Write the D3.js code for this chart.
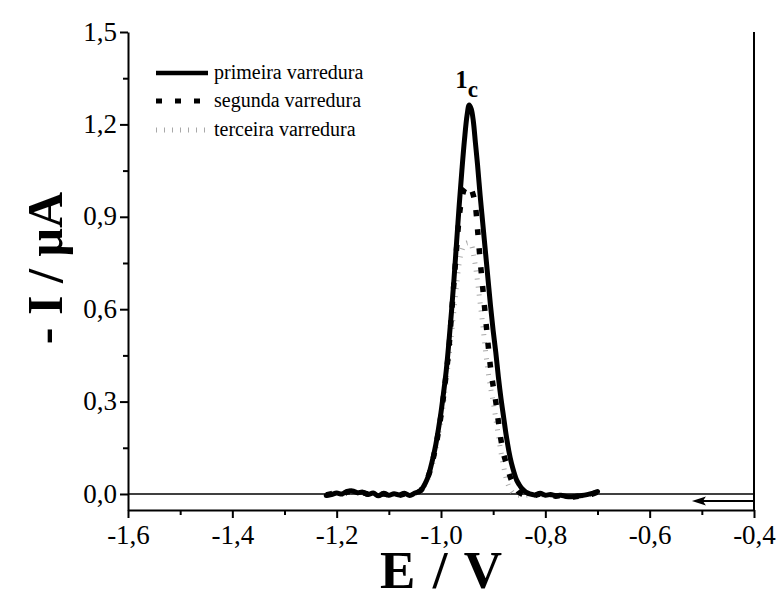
<!DOCTYPE html>
<html><head><meta charset="utf-8">
<script src="https://cdn.jsdelivr.net/npm/d3@7"></script>
<style>body{margin:0;background:#fff}svg{display:block}</style>
</head><body>
<script>
// ---- data ----
const potentials = [
-1.22,-1.21,-1.20,-1.19,-1.18,-1.17,-1.16,-1.15,-1.14,-1.13,-1.12,-1.11,-1.10,-1.09,-1.08,-1.07,-1.06,-1.05,-1.04,
-1.035,-1.030,-1.025,-1.020,-1.015,-1.010,-1.005,-1.000,-0.995,-0.990,-0.985,-0.980,-0.975,-0.970,-0.965,-0.960,-0.955,-0.950,
-0.946,-0.942,-0.938,-0.934,-0.930,
-0.925,-0.920,-0.915,-0.910,-0.905,-0.900,-0.895,-0.890,-0.885,-0.880,-0.875,-0.870,-0.865,-0.860,-0.855,-0.850,-0.845,-0.840,-0.835,
-0.83,-0.82,-0.81,-0.80,-0.79,-0.78,-0.77,-0.76,-0.75,-0.74,-0.73,-0.72,-0.71,-0.70];

const primeira = [
-0.005,-0.002,0.003,0.000,0.008,0.010,0.004,0.006,-0.002,0.003,-0.006,0.002,-0.004,0.001,-0.003,0.002,-0.005,0.003,0.010,
0.02,0.035,0.055,0.085,0.12,0.16,0.21,0.265,0.33,0.40,0.49,0.59,0.70,0.82,0.94,1.05,1.15,1.23,
1.263,1.25,1.21,1.14,1.07,
0.97,0.88,0.79,0.70,0.61,0.53,0.46,0.38,0.31,0.25,0.19,0.14,0.10,0.07,0.045,0.03,0.018,0.01,0.004,
0.0,-0.003,0.002,-0.004,-0.002,-0.006,-0.004,-0.008,-0.009,-0.007,-0.005,-0.002,0.002,0.008];

const segunda = [
-0.003,0.001,0.002,-0.002,0.006,0.008,0.002,0.004,0.000,0.001,-0.004,0.000,-0.003,0.003,-0.004,0.000,-0.003,0.004,0.010,
0.02,0.035,0.055,0.08,0.115,0.155,0.20,0.255,0.32,0.39,0.47,0.58,0.69,0.80,0.90,0.96,0.99,0.998,
1.003,0.99,0.97,0.935,0.86,
0.76,0.67,0.58,0.49,0.41,0.35,0.30,0.235,0.175,0.13,0.10,0.07,0.045,0.03,0.015,0.005,0.0,-0.003,-0.004,
-0.003,-0.005,0.000,-0.005,-0.004,-0.007,-0.005,-0.009,-0.010,-0.008,-0.006,-0.003,0.000,0.006];

const terceira = [
-0.004,0.000,0.002,-0.001,0.005,0.007,0.003,0.004,-0.001,0.002,-0.005,0.001,-0.003,0.000,-0.002,0.001,-0.004,0.002,0.008,
0.02,0.033,0.05,0.075,0.105,0.145,0.19,0.24,0.30,0.37,0.44,0.52,0.60,0.68,0.75,0.79,0.81,0.815,
0.815,0.81,0.78,0.74,0.69,
0.62,0.55,0.47,0.40,0.345,0.30,0.245,0.19,0.135,0.09,0.05,0.025,0.01,0.0,-0.003,-0.004,-0.005,-0.005,-0.004,
-0.004,-0.005,-0.002,-0.005,-0.004,-0.007,-0.006,-0.008,-0.009,-0.008,-0.006,-0.004,-0.001,0.004];

const seriesNames = ["primeira varredura","segunda varredura","terceira varredura"];
const xTicks = [-1.6,-1.4,-1.2,-1.0,-0.8,-0.6,-0.4];
const xMinor = [-1.5,-1.3,-1.1,-0.9,-0.7,-0.5];
const yTicks = [0,0.3,0.6,0.9,1.2,1.5];
const yMinor = [0.15,0.45,0.75,1.05,1.35];
const peakLabel = "1", peakSub = "c", peakPos = [-0.948, 1.263];
const scanArrow = [-0.4, -0.519, -0.023];

// ---- layout ----
const W = 781, H = 600;
const L = 128, R = 754, T = 32, B = 510;
const svg = d3.select("body").append("svg").attr("width", W).attr("height", H);
const x = d3.scaleLinear().domain([-1.6, -0.4]).range([L, R]);
const y = d3.scaleLinear().domain([-0.052, 1.5]).range([B, T]);
const fmt = d => d3.format(".1f")(d).replace(".", ",").replace("−","-");
const font = "Liberation Serif";

// zero line
svg.append("line").attr("x1", L).attr("x2", R).attr("y1", y(0)).attr("y2", y(0))
  .attr("stroke", "#000").attr("stroke-width", 1.6);

// curves
const data = [primeira, segunda, terceira].map(v => potentials.map((p, i) => [p, v[i]]));
const line = d3.line().x(d => x(d[0])).y(d => y(d[1])).curve(d3.curveCatmullRom.alpha(0.5));
const styles = [
  {stroke: "#000", width: 5, dash: null, cap: "round"},
  {stroke: "#000", width: 5.5, dash: "6,13", cap: "butt"},
  {stroke: "#a8a8a8", width: 5, dash: "1,7", cap: "butt"}
];
[2, 1, 0].forEach(k => {
  svg.append("path").datum(data[k]).attr("d", line).attr("fill", "none")
    .attr("stroke", styles[k].stroke).attr("stroke-width", styles[k].width)
    .attr("stroke-dasharray", styles[k].dash).attr("stroke-linecap", styles[k].cap)
    .attr("stroke-linejoin", "round");
});

// axes
function styleAxis(g) {
  g.select(".domain").attr("stroke-width", 2);
  g.selectAll(".tick line").attr("stroke-width", 2);
  g.selectAll("text").style("font-family", font).attr("font-size", 27).attr("fill", "#000");
}
svg.append("g").attr("transform", `translate(0,${B})`)
  .call(d3.axisBottom(x).tickValues(xMinor).tickSize(5).tickFormat("").tickSizeOuter(0))
  .call(g => { g.select(".domain").remove(); g.selectAll("line").attr("stroke-width", 2); });
svg.append("g").attr("transform", `translate(0,${B})`)
  .call(d3.axisBottom(x).tickValues(xTicks).tickSize(8).tickPadding(7).tickFormat(fmt).tickSizeOuter(0))
  .call(styleAxis);
svg.append("g").attr("transform", `translate(${L},0)`)
  .call(d3.axisLeft(y).tickValues(yMinor).tickSize(5).tickFormat("").tickSizeOuter(0))
  .call(g => { g.select(".domain").remove(); g.selectAll("line").attr("stroke-width", 2); });
svg.append("g").attr("transform", `translate(${L},0)`)
  .call(d3.axisLeft(y).tickValues(yTicks).tickSize(8).tickPadding(3).tickFormat(fmt).tickSizeOuter(0))
  .call(styleAxis)
  .call(g => g.selectAll("text").attr("dy", "0.3em"));
// right frame
svg.append("line").attr("x1", R).attr("x2", R).attr("y1", T).attr("y2", B + 1)
  .attr("stroke", "#000").attr("stroke-width", 2);

// axis titles
svg.append("text").attr("x", (L + R) / 2).attr("y", 588).attr("text-anchor", "middle")
  .style("font-family", font).attr("font-weight", "bold").attr("font-size", 53)
  .attr("word-spacing", 4).text("E / V");
svg.append("text").attr("transform", `translate(62,${268}) rotate(-90)`).attr("text-anchor", "middle")
  .style("font-family", font).attr("font-weight", "bold").attr("font-size", 50).text("- I / µA");

// legend
const legY = [73, 101, 130];
seriesNames.forEach((n, k) => {
  svg.append("line").attr("x1", 156).attr("x2", 208).attr("y1", legY[k]).attr("y2", legY[k])
    .attr("stroke", styles[k].stroke).attr("stroke-width", k === 0 ? 4.5 : 5)
    .attr("stroke-dasharray", styles[k].dash);
  svg.append("text").attr("x", 214).attr("y", legY[k] + 6).style("font-family", font)
    .attr("font-size", 20).text(n);
});

// peak label (sits just above-left of the peak)
const pl = svg.append("text").attr("x", x(peakPos[0]) - 13).attr("y", y(peakPos[1]) - 17)
  .style("font-family", font).attr("font-weight", "bold").attr("font-size", 25);
pl.append("tspan").text(peakLabel);
pl.append("tspan").attr("dy", 9).attr("font-size", 23).text(peakSub);

// scan direction arrow
const ay = y(scanArrow[2]), tip = x(scanArrow[1]);
svg.append("line").attr("x1", x(scanArrow[0]) - 1).attr("x2", tip + 10)
  .attr("y1", ay).attr("y2", ay).attr("stroke", "#000").attr("stroke-width", 2);
svg.append("path").attr("d", `M${tip},${ay} L${tip + 14},${ay - 4.5} L${tip + 11},${ay} L${tip + 14},${ay + 4.5} Z`)
  .attr("fill", "#000");
</script>
</body></html>
